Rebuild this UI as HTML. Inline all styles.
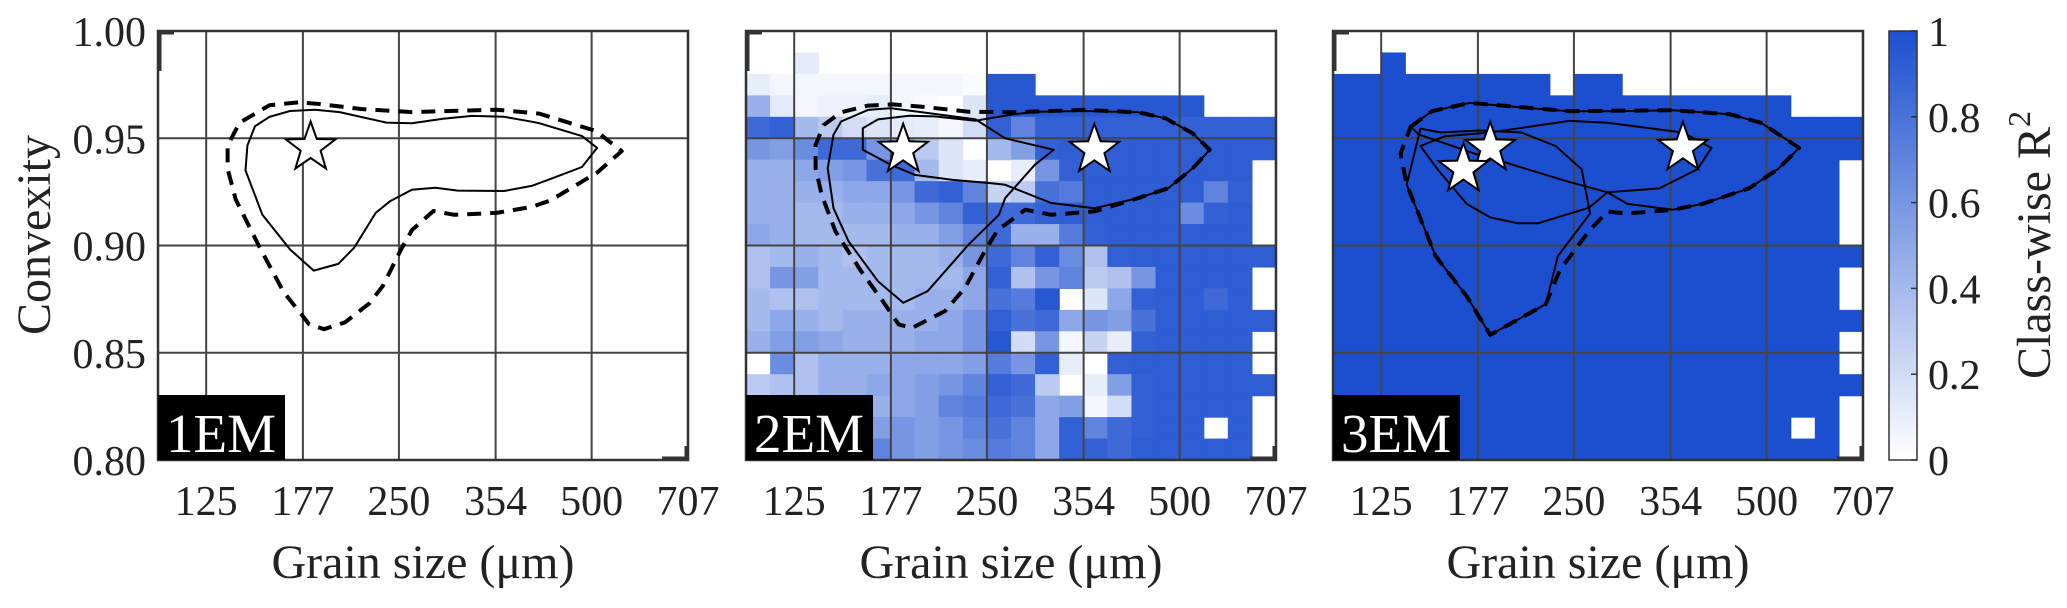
<!DOCTYPE html>
<html><head><meta charset="utf-8"><style>
html,body{margin:0;padding:0;background:#fff}
svg text{font-family:"Liberation Serif",serif;fill:#222}
</style></head><body>
<svg id="fig" width="2067" height="603" viewBox="0 0 2067 603" xmlns="http://www.w3.org/2000/svg"></svg>
<script>
// ---- data ----
const xTicks = [125, 177, 250, 354, 500, 707];
const xTickLabels = ["125","177","250","354","500","707"];
const yTicks = [0.80, 0.85, 0.90, 0.95, 1.00];
const yTickLabels = ["0.80","0.85","0.90","0.95","1.00"];
const cbTicks = [0, 0.2, 0.4, 0.6, 0.8, 1];
const cbTickLabels = ["0","0.2","0.4","0.6","0.8","1"];
const panelNames = ["1EM","2EM","3EM"];

const heat2 = [
[0,0,0,0,0,0,0,0,0,0,0,0,0,0,0,0,0,0,0,0,0,0],
[0,0,.12,0,0,0,0,0,0,0,0,0,0,0,0,0,0,0,0,0,0,0],
[.1,.05,.05,.05,.05,.05,.05,.05,.05,.02,.95,.95,0,0,0,0,0,0,0,0,0,0],
[.45,.12,.05,.08,.08,.1,.05,.03,0,.15,.95,.95,.95,.95,.95,.95,.95,.95,.95,0,0,0],
[.85,.9,.4,.3,.2,.15,.12,.1,.05,.2,.9,.7,.9,.9,.9,.9,.9,.9,.9,.9,.9,.9],
[.6,.55,.65,.85,.85,.6,.5,.3,.15,0,.4,.55,.9,.92,.92,.92,.92,.92,.92,.92,.92,.92],
[.45,.45,.5,.55,.6,.8,.85,.4,.15,.1,0,.1,.6,.9,.92,.92,.92,.92,.92,.92,.92,0],
[.45,.45,.45,.45,.5,.5,.6,.85,.9,.7,.25,.3,.8,.75,.92,.92,.92,.92,.92,.7,.9,0],
[.45,.45,.4,.4,.45,.45,.5,.6,.7,.9,.85,.85,.9,.92,.92,.92,.92,.92,.65,.9,.92,0],
[.5,.45,.4,.4,.4,.4,.45,.45,.55,.7,.85,.45,.45,.75,.9,.92,.92,.92,.92,.92,.92,0],
[.35,.4,.45,.4,.35,.4,.4,.4,.45,.6,.85,.7,.9,.65,.35,.9,.92,.92,.92,.92,.92,.92],
[.35,.6,.55,.4,.4,.4,.4,.4,.4,.5,.9,.35,.6,.7,.3,.35,.6,.92,.92,.92,.92,0],
[.4,.35,.35,.4,.4,.4,.4,.45,.45,.5,.8,.75,.95,0,.15,.5,.9,.92,.92,.85,.92,0],
[.4,.5,.45,.4,.45,.45,.45,.45,.5,.6,.9,.8,.85,.5,.6,.55,.8,.92,.92,.92,.92,.92],
[.45,.55,.55,.5,.45,.45,.45,.5,.5,.6,.95,.2,.6,.05,.25,.1,.9,.92,.92,.92,.92,0],
[0,.65,.35,.45,.45,.45,.5,.5,.5,.55,.75,.6,.9,.1,0,.9,.92,.92,.92,.92,.92,0],
[.3,.35,.35,.45,.45,.5,.5,.55,.6,.7,.9,.85,.3,0,.1,.55,.9,.92,.92,.92,.92,.92],
[.4,.4,.4,.4,.4,.45,.5,.55,.7,.75,.85,.8,.5,.55,.05,.2,.9,.92,.92,.92,.92,0],
[.4,.4,.4,.4,.4,.55,.6,.55,.6,.7,.8,.7,.5,.9,.7,.85,.9,.92,.92,0,.92,0],
[.4,.4,.4,.4,.4,.7,.6,.55,.6,.65,.75,.7,.5,.9,.9,.85,.92,.92,.92,.92,.92,0]
];
const heat3 = [
"0000000000000000000000",
"0010000000000000000000",
"1111111110110000000000",
"1111111111111111111000",
"1111111111111111111111",
"1111111111111111111111",
"1111111111111111111110",
"1111111111111111111110",
"1111111111111111111110",
"1111111111111111111110",
"1111111111111111111111",
"1111111111111111111110",
"1111111111111111111110",
"1111111111111111111111",
"1111111111111111111110",
"1111111111111111111110",
"1111111111111111111111",
"1111111111111111111110",
"1111111111111111111010",
"1111111111111111111110"
];

const p1Solid = [[149,.9556],[145,.9466],[144,.935],[153,.9143],[169,.8982],[184,.8883],[201,.8914],[213,.8991],[230,.9152],[242,.9206],[262,.926],[285,.9269],[309,.9256],[365,.9254],[403,.9278],[435,.9314],[483,.9366],[510,.9455],[483,.951],[414,.957],[403,.9577],[365,.96],[325,.9604],[293,.9591],[262,.957],[239,.9573],[202,.9622],[185,.9633],[169,.9627],[157,.96]];
const p1Dashed = [[174,.9667],[157,.9654],[141,.9573],[135,.9466],[135,.9358],[139,.9215],[151,.9],[165,.8785],[181,.8633],[191,.861],[206,.8642],[225,.8731],[236,.8812],[252,.8982],[262,.9072],[283,.9161],[305,.9143],[355,.9152],[403,.918],[431,.921],[510,.934],[557,.944],[508,.9534],[414,.9615],[355,.9633],[262,.9622],[219,.9636],[187,.966]];
const p1Stars = [[182,.9457]];

const p2LoopB = [[160,.9547],[169,.9588],[189,.9605],[207,.9602],[240,.9582],[276,.9612],[300,.9624],[354,.9627],[431,.9621],[475,.9593],[524,.9523],[557,.9446],[524,.936],[480,.9267],[431,.9221],[368,.9174],[315,.9198],[267,.9283],[253,.9291],[221,.9306],[193,.9329],[177,.9376],[160,.9446]];
const p2LoopA = [[144,.9516],[141,.936],[144,.9174],[152,.9019],[169,.8833],[185,.8733],[202,.8787],[234,.9004],[261,.9143],[267,.9221],[297,.9376],[318,.9446],[267,.95],[240,.9588],[198,.9621],[177,.964],[163,.9632],[148,.9578]];
const p2Dashed = [[139,.9562],[148,.9621],[163,.9652],[178,.9658],[198,.9647],[234,.9624],[276,.9621],[354,.9632],[431,.9621],[475,.9593],[524,.9523],[557,.9446],[524,.936],[480,.9267],[431,.9221],[368,.9159],[315,.9143],[287,.9167],[267,.9097],[261,.9081],[248,.8973],[231,.8802],[215,.8694],[191,.8616],[182,.8632],[172,.874],[159,.888],[145,.9066],[138,.9236],[135,.936],[135,.9469]];
const p2Stars = [[185,.9446],[368,.9446]];

const p3LoopC = [[139,.9554],[150,.9626],[172,.9665],[207,.9644],[246,.9626],[293,.9626],[357,.9631],[438,.9612],[490,.9572],[562,.9455],[521,.9356],[469,.9266],[397,.9194],[357,.9167],[303,.9194],[282,.9248],[242,.9302],[211,.9356],[189,.9401],[175,.9428],[155,.9482],[143,.9518]];
const p3LoopD = [[144,.9545],[137,.9284],[152,.8951],[170,.8763],[185,.8583],[226,.8727],[236,.8951],[265,.9149],[257,.9356],[234,.9464],[207,.9527],[178,.9536],[155,.9527]];
const p3LoopE = [[185,.9527],[246,.9581],[282,.9572],[370,.9527],[410,.9455],[390,.9356],[340,.9266],[282,.9248],[264,.9176],[220,.9104],[204,.9104],[185,.9131],[170,.9194],[153,.9356],[144,.9464],[157,.9509]];
const p3Dashed = [[139,.9554],[150,.9626],[172,.9665],[246,.9626],[357,.9631],[438,.9612],[490,.9572],[562,.9455],[521,.9356],[469,.9266],[397,.9194],[357,.9167],[303,.9149],[282,.9158],[264,.9068],[238,.8888],[226,.8727],[185,.8583],[170,.8763],[152,.8951],[137,.9284],[134,.9428]];
const p3Stars = [[185,.9455],[168,.9356],[370,.9455]];

// ---- layout ----
const NS = "http://www.w3.org/2000/svg";
const svg = document.getElementById('fig');
const PW = 530, TOP = 31, BOT = 460, PH = BOT - TOP;
const lefts = [158, 746, 1333];
const NCOL = 22, NROW = 20;
const BLUE = [28, 79, 208];
function xPx(p, um){ return lefts[p] + (Math.log2(um/125)*2 + 0.5) * (PW/5.5); }
function yPx(c){ return TOP + (1 - c) / 0.2 * PH; }
function color(v){
  const r = Math.round(255 + (BLUE[0]-255)*v), g = Math.round(255 + (BLUE[1]-255)*v), b = Math.round(255 + (BLUE[2]-255)*v);
  return `rgb(${r},${g},${b})`;
}
function mk(tag, attrs, parent){
  const e = document.createElementNS(NS, tag);
  for (const k in attrs) e.setAttribute(k, attrs[k]);
  (parent || svg).appendChild(e);
  return e;
}
function poly(p, pts, dashed, g){
  const d = pts.map((q,i)=> (i?'L':'M') + xPx(p,q[0]).toFixed(1) + ',' + yPx(q[1]).toFixed(1)).join('') + 'Z';
  const e = mk('path', {d:d, fill:'none', stroke:'#000', 'stroke-width': dashed?4:2, 'stroke-dasharray': dashed?'14 9':'none', 'stroke-linejoin':'round'}, g);
  return e;
}
function star(p, s, g){
  const cx = xPx(p, s[0]), cy = yPx(s[1]);
  let d = '';
  for (let i=0;i<10;i++){
    const r = i%2 ? 10.5 : 26;
    const a = -Math.PI/2 + i*Math.PI/5;
    d += (i?'L':'M') + (cx + r*Math.cos(a)).toFixed(1) + ',' + (cy + r*Math.sin(a)).toFixed(1);
  }
  return mk('path', {d:d+'Z', fill:'#fff', stroke:'#000', 'stroke-width':2}, g);
}

const contourSets = [
  {solid:[p1Solid], dashed:[p1Dashed], stars:p1Stars},
  {solid:[p2LoopA, p2LoopB], dashed:[p2Dashed], stars:p2Stars},
  {solid:[p3LoopC, p3LoopD, p3LoopE], dashed:[p3Dashed], stars:p3Stars}
];

for (let p=0;p<3;p++){
  const g = mk('g', {});
  
  
  const L = lefts[p];
  mk('rect', {x:L, y:TOP, width:PW, height:PH, fill:'#fff'}, g);
  // heatmap
  const hm = mk('g', {}, g);
  
  
  const cw = PW/NCOL, ch = PH/NROW;
  for (let r=0;r<NROW;r++) for (let c=0;c<NCOL;c++){
    let v = 0;
    if (p===1) v = heat2[r][c];
    else if (p===2) v = +heat3[r][c];
    if (v<=0) continue;
    const cell = mk('rect', {x:(L + c*cw).toFixed(2), y:(TOP + r*ch).toFixed(2), width:(cw+0.6).toFixed(2), height:(ch+0.6).toFixed(2), fill:color(v)}, hm);
    
    
  }
  // grid
  const grid = mk('g', {stroke:'#444', 'stroke-width':2}, g);
  
  
  xTicks.forEach(t=>{ const x = xPx(p,t); mk('line', {x1:x, x2:x, y1:TOP, y2:BOT}, grid); });
  yTicks.forEach(t=>{ const y = yPx(t); mk('line', {x1:L, x2:L+PW, y1:y, y2:y}, grid); });
  mk('rect', {x:L, y:TOP, width:PW, height:PH, fill:'none', stroke:'#333', 'stroke-width':2.5}, g);
  // corner ticks
  mk('path', {d:`M${L+1.5},${TOP+40}V${TOP+1.5}H${L+16}`, fill:'none', stroke:'#333', 'stroke-width':4}, g);
  mk('path', {d:`M${L+PW-1.5},${BOT-14}V${BOT-1.5}H${L+PW-26}`, fill:'none', stroke:'#333', 'stroke-width':4}, g);
  // contours
  const cs = contourSets[p];
  cs.solid.forEach(pts=>{ const e = poly(p, pts, false, g);   });
  cs.dashed.forEach(pts=>{ const e = poly(p, pts, true, g);   });
  cs.stars.forEach(s=>{ const e = star(p, s, g);   });
  // panel label
  const lb = mk('rect', {x:L, y:395, width:127, height:65, fill:'#000'}, g);
  
  
  const lt = mk('text', {x:L+8, y:452, 'font-size':55, style:'fill:#fff'}, g);
  lt.textContent = panelNames[p];
  
  
  // x tick labels
  xTicks.forEach((t,i)=>{
    const tx = mk('text', {x:xPx(p,t), y:515, 'font-size':42, 'text-anchor':'middle'}, g);
    tx.textContent = xTickLabels[i];
    
    
  });
  const xl = mk('text', {x:L+PW/2, y:578, 'font-size':48, 'text-anchor':'middle'}, g);
  xl.textContent = 'Grain size (\u03bcm)';
  
  
}
// y tick labels
yTicks.forEach((t,i)=>{
  const ty = mk('text', {x:146, y:yPx(t)+15, 'font-size':42, 'text-anchor':'end'});
  ty.textContent = yTickLabels[i];
  
  
});
const yt = mk('text', {x:0, y:0, 'font-size':48, 'text-anchor':'middle', transform:'translate(50,235) rotate(-90)'});
yt.textContent = 'Convexity';



// colorbar
const defs = mk('defs', {});
const lg = mk('linearGradient', {id:'cbg', x1:0, y1:1, x2:0, y2:0}, defs);
mk('stop', {offset:0, 'stop-color':color(0)}, lg);
mk('stop', {offset:1, 'stop-color':color(1)}, lg);
const cbx = 1889, cbw = 28;
const cb = mk('rect', {x:cbx, y:TOP, width:cbw, height:PH, fill:'url(#cbg)', stroke:'#333', 'stroke-width':1.5});


function cbY(v){ return BOT - v*PH; }
cbTicks.forEach((t,i)=>{
  mk('line', {x1:cbx+cbw-6, x2:cbx+cbw, y1:cbY(t), y2:cbY(t), stroke:'#333', 'stroke-width':1.5});
  const tt = mk('text', {x:1928, y:cbY(t)+15, 'font-size':42});
  tt.textContent = cbTickLabels[i];
  
  
});
const ct = mk('text', {x:0, y:0, 'font-size':48, 'text-anchor':'middle', transform:'translate(2050,245) rotate(-90)'});


ct.textContent = 'Class-wise R';
const sup = mk('tspan', {dy:-20, 'font-size':32}, ct);
sup.textContent = '2';
</script>
</body></html>
